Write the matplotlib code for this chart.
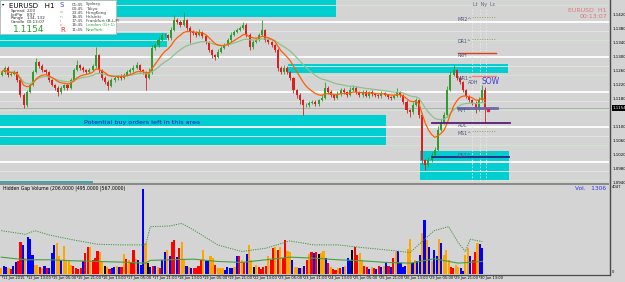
import numpy as np
import pandas as pd
import matplotlib
matplotlib.use("Agg")
import matplotlib.pyplot as plt
from matplotlib.patches import Rectangle
from matplotlib.lines import Line2D
from matplotlib import font_manager

# ---------------- data ----------------
first_open = 1.1249
closes = [
    1.1257, 1.1269, 1.1249, 1.1252, 1.1257, 1.1234, 1.1192, 1.1163, 1.1200, 1.1220,
    1.1257, 1.1286, 1.1274, 1.1263, 1.1257, 1.1234, 1.1220, 1.1212, 1.1200, 1.1212,
    1.1220, 1.1212, 1.1234, 1.1263, 1.1277, 1.1269, 1.1263, 1.1257, 1.1263, 1.1274,
    1.1306, 1.1263, 1.1240, 1.1229, 1.1217, 1.1234, 1.1240, 1.1246, 1.1240, 1.1249,
    1.1257, 1.1263, 1.1269, 1.1277, 1.1263, 1.1257, 1.1240, 1.1257, 1.1326, 1.1334,
    1.1349, 1.1363, 1.1363, 1.1354, 1.1377, 1.1406, 1.1400, 1.1392, 1.1406, 1.1383,
    1.1372, 1.1369, 1.1363, 1.1372, 1.1360, 1.1343, 1.1320, 1.1306, 1.1300, 1.1314,
    1.1326, 1.1334, 1.1349, 1.1363, 1.1372, 1.1377, 1.1383, 1.1392, 1.1363, 1.1329,
    1.1343, 1.1349, 1.1363, 1.1377, 1.1349, 1.1343, 1.1334, 1.1320, 1.1269, 1.1257,
    1.1269, 1.1257, 1.1240, 1.1206, 1.1192, 1.1177, 1.1163, 1.1163, 1.1169, 1.1172,
    1.1166, 1.1177, 1.1183, 1.1212, 1.1200, 1.1192, 1.1183, 1.1194, 1.1206, 1.1200,
    1.1192, 1.1206, 1.1212, 1.1200, 1.1192, 1.1200, 1.1189, 1.1200, 1.1194, 1.1192,
    1.1189, 1.1197, 1.1192, 1.1186, 1.1183, 1.1189, 1.1200, 1.1192, 1.1172, 1.1149,
    1.1143, 1.1163, 1.1177, 1.1134, 1.1006, 1.0992, 1.1006, 1.1020, 1.1034, 1.1092,
    1.1114, 1.1134, 1.1206, 1.1249, 1.1263, 1.1240, 1.1229, 1.1206, 1.1189, 1.1177,
    1.1169, 1.1149, 1.1177, 1.1206, 1.1154,
]
upper_wick_pips = [
    5, 6, 4, 5, 6, 3, 4, 4, 6, 7,
    5, 12, 4, 5, 3, 4, 3, 4, 5, 6,
    4, 5, 6, 7, 14, 4, 5, 3, 6, 7,
    23, 4, 3, 5, 4, 6, 5, 4, 5, 6,
    5, 6, 7, 9, 3, 4, 3, 12, 8, 6,
    7, 6, 5, 4, 9, 14, 5, 6, 23, 4,
    5, 6, 4, 7, 3, 4, 3, 4, 3, 8,
    6, 7, 5, 8, 6, 7, 5, 9, 4, 6,
    5, 6, 7, 29, 3, 4, 3, 4, 5, 6,
    7, 4, 3, 4, 3, 4, 3, 5, 4, 5,
    6, 4, 9, 17, 4, 5, 3, 8, 6, 5,
    4, 8, 7, 4, 3, 6, 5, 4, 5, 4,
    3, 6, 4, 3, 4, 6, 11, 4, 3, 4,
    3, 8, 7, 4, 6, 4, 7, 8, 9, 10,
    8, 9, 12, 10, 14, 4, 5, 3, 4, 3,
    4, 5, 9, 14, 8,
]
lower_wick_pips = [
    4, 5, 6, 3, 4, 6, 7, 9, 5, 4,
    3, 4, 6, 5, 6, 5, 4, 6, 11, 5,
    6, 5, 4, 3, 4, 6, 5, 6, 4, 3,
    5, 8, 6, 7, 11, 4, 5, 6, 5, 4,
    3, 4, 5, 4, 6, 5, 34, 4, 5, 6,
    4, 3, 5, 6, 4, 3, 5, 6, 4, 7,
    31, 5, 6, 4, 5, 6, 7, 8, 9, 4,
    3, 4, 3, 5, 4, 3, 4, 3, 6, 9,
    5, 4, 3, 4, 6, 5, 6, 7, 8, 6,
    5, 6, 7, 8, 9, 10, 29, 6, 5, 4,
    6, 5, 4, 3, 6, 5, 7, 4, 5, 6,
    5, 4, 3, 6, 5, 7, 4, 5, 6, 5,
    6, 5, 4, 6, 5, 4, 3, 5, 7, 8,
    14, 5, 4, 9, 12, 14, 6, 5, 4, 3,
    4, 5, 4, 3, 4, 6, 5, 7, 6, 5,
    6, 9, 4, 5, 43,
]

volumes = [
    271, 346, 316, 271, 225, 376, 527, 572, 1479, 1328,
    724, 1675, 1584, 875, 422, 422, 316, 271, 346, 271,
    271, 950, 1328, 1403, 829, 648, 1297, 648, 572, 422,
    376, 271, 225, 271, 572, 950, 1252, 1222, 648, 724,
    1071, 1026, 572, 376, 316, 225, 271, 316, 346, 316,
    316, 920, 678, 648, 497, 1101, 693, 648, 422, 3864,
    1433, 497, 316, 376, 346, 316, 271, 648, 1026, 1101,
    799, 1479, 1554, 769, 1176, 1479, 648, 376, 316, 271,
    271, 271, 376, 648, 1101, 572, 648, 799, 724, 422,
    271, 271, 271, 195, 316, 271, 271, 316, 799, 829,
    648, 527, 920, 1328, 648, 316, 422, 316, 225, 316,
    376, 799, 648, 1176, 1252, 1101, 1252, 724, 1554, 1071,
    1026, 648, 316, 316, 271, 271, 376, 648, 920, 1026,
    980, 1026, 920, 980, 1056, 724, 497, 316, 225, 195,
    271, 271, 316, 376, 724, 648, 1101, 1252, 875, 980,
    648, 376, 316, 225, 316, 271, 225, 346, 316, 376,
    527, 376, 316, 724, 1026, 1071, 497, 316, 376, 1131,
    1584, 497, 648, 572, 875, 1856, 2460, 1554, 1252, 572,
    1101, 799, 1584, 1433, 875, 1101, 648, 316, 271, 422,
    316, 271, 120, 875, 1176, 799, 648, 1026, 1403, 1373, 1176,
]
vol_kinds = list(
    "obborbbrrb"
    "obbboorob"
    "rbbboobooo"
    "orrrrbrror"
    "rrookorbbo"
    "brororrobb"
    "bokbrborbb"
    "obrrbroobo"
    "brrrrobboo"
    "rooobbbbob"
    "rorbookorr"
    "rrorrororr"
    "ooboobobr"
    "orbrkoobro"
    "rrorbobbkr"
    "roorrborbr"
    "bobrbrobbb"
    "boobobbobo"
    "bobbobooor"
    "roobboobrro"
    "bbbooo"
)[:len(volumes)]

vol_band_idx = [0, 10, 14, 20, 30, 40, 50, 60, 62, 70, 75, 80, 90, 100, 110, 120,
                130, 140, 150, 160, 170, 180, 186, 190, 193, 195, 200]
vol_band_val = [1977, 1810, 1977, 1780, 1554, 1358, 1328, 1328, 2160, 2188, 2310, 2007,
                1328, 1026, 1176, 1509, 1328, 1328, 1207, 1101, 980, 1977, 2160, 1433,
                1026, 1584, 1479]
vol_avg_idx = [0, 10, 20, 30, 40, 50, 60, 62, 70, 80, 90, 100, 110, 120, 130, 140,
               150, 160, 170, 180, 190, 200]
vol_avg_val = [769, 648, 648, 603, 572, 542, 497, 620, 648, 678, 572, 527, 648, 769,
               724, 648, 603, 527, 497, 693, 497, 572]

time_labels = ["11 Jun 2015", "12 Jun 13:00", "15 Jun 05:00", "15 Jun 21:00",
               "16 Jun 13:00", "17 Jun 05:00", "17 Jun 21:00", "18 Jun 13:00",
               "19 Jun 05:00", "19 Jun 21:00", "22 Jun 13:00", "23 Jun 05:00",
               "23 Jun 21:00", "24 Jun 13:00", "25 Jun 05:00", "25 Jun 21:00",
               "26 Jun 13:00", "29 Jun 05:00", "29 Jun 21:00", "30 Jun 13:00"]
price_ticks = [1.1420, 1.1380, 1.1340, 1.1300, 1.1260, 1.1220, 1.1180,
               1.1100, 1.1060, 1.1020, 1.0980, 1.0940]
round_levels = [1.1400, 1.1300, 1.1200, 1.1100, 1.1000]
half_levels = [1.1450, 1.1350, 1.1250, 1.1150, 1.1050, 1.0950]
minor_levels = [1.1373, 1.1273, 1.1173, 1.1073, 1.0973]

zone_low = [1.1414, 1.1329, 1.1254, 1.1049, 1.0949]
zone_high = [1.1470, 1.1369, 1.1280, 1.1134, 1.1031]
zone_x_px = [(0, 336), (0, 167), (288, 508), (0, 386), (420, 509)]

pivot_names = ["MR2^", "DR1^", "RxH", "WR1^", "PVT^", "ADL", "MS1^", "DS1^"]
pivot_levels = [1.1414, 1.1351, 1.1311, 1.1246, 1.1154, 1.1111, 1.1089, 1.1028]
pivot_styles = ["dot", "dot", "red", "salmon", "pvt", "purple", "dot", "dot"]
ds_line_level = 1.1014

last_price_text = "1.1154"

# ---------------- fonts ----------------
_names = {f.name for f in font_manager.fontManager.ttflist}
NARROW = "Liberation Sans Narrow" if "Liberation Sans Narrow" in _names else "DejaVu Sans"
NSCALE = 1.0 if NARROW != "DejaVu Sans" else 0.8

# ---------------- layout ----------------
W, H = 625, 282
BG = "#D4D4D4"
PXH = 1.5695          # pixels per hour bar
XMAX = 609 / PXH

def rect(x0, y0, x1, y1):
    return [x0 / W, 1 - y1 / H, (x1 - x0) / W, (y1 - y0) / H]

def hx(px):
    return px / PXH

fig = plt.figure(figsize=(W / 100, H / 100), dpi=100, facecolor=BG)
axp = fig.add_axes(rect(0, 0, 609, 183))
axv = fig.add_axes(rect(0, 185, 609, 274))
for ax in (axp, axv):
    ax.set_facecolor(BG)
    ax.set_xlim(0, XMAX)
    ax.set_xticks([])
    ax.set_yticks([])
    for s in ax.spines.values():
        s.set_visible(False)
axp.set_ylim(1.0940, 1.14629)
axv.set_ylim(0, 4060)

def ftext(x, y, s, **kw):
    kw.setdefault("va", "center")
    kw.setdefault("ha", "left")
    fig.text(x / W, 1 - y / H, s, **kw)

def fline(x0, y0, x1, y1, **kw):
    fig.add_artist(Line2D([x0 / W, x1 / W], [1 - y0 / H, 1 - y1 / H],
                          transform=fig.transFigure, **kw))

# ---------------- price panel ----------------
CYAN = "#00CED1"
for lo, hi, (x0, x1) in zip(zone_low, zone_high, zone_x_px):
    axp.add_patch(Rectangle((hx(x0), lo), hx(x1) - hx(x0), hi - lo,
                            facecolor=CYAN, edgecolor="none", zorder=1))

for lv in minor_levels:
    axp.axhline(lv, color="#E4E4E4", lw=0.7, zorder=1.5)
for lv in half_levels:
    axp.axhline(lv, color="#CFE6CF", lw=0.7, zorder=1.5)
for lv in round_levels:
    axp.axhline(lv, color="white", lw=1.3, zorder=1.6)

closes_a = np.array(closes)
opens_a = np.concatenate([[first_open], closes_a[:-1]])
highs = np.maximum(opens_a, closes_a) + np.array(upper_wick_pips) * 0.0001
lows = np.minimum(opens_a, closes_a) - np.array(lower_wick_pips) * 0.0001
xb = np.arange(len(closes)) * 2 + 1
up = closes_a >= opens_a
cols = np.where(up, "#2F9E2F", "#D82020")

axp.axhline(closes[-1], color="#A8A8A8", lw=0.6, zorder=1.7)
axp.vlines(xb, lows, highs, colors=cols, lw=0.6, zorder=2.5)
body = np.maximum(np.abs(closes_a - opens_a), 0.00009)
axp.bar(xb, body, bottom=np.minimum(opens_a, closes_a), width=1.3,
        color=cols, zorder=2.6, linewidth=0)

ser = pd.Series(closes_a)
axp.plot(xb, ser.ewm(span=24).mean(), color="#90C090", lw=0.9, zorder=2.7)
axp.plot(xb, ser.ewm(span=10).mean(), color="#FF6000", lw=0.9, zorder=2.8)

# pivot lines and labels
for name, lv, st in zip(pivot_names, pivot_levels, pivot_styles):
    if st == "dot":
        axp.plot([hx(472), hx(495)], [lv, lv], color="#A0A050", lw=0.7, ls=(0, (1, 1.5)), zorder=3)
    elif st == "red":
        axp.plot([hx(458), hx(496)], [lv, lv], color="#E04020", lw=1.0, zorder=3)
    elif st == "salmon":
        axp.plot([hx(472), hx(496)], [lv, lv], color="#F08070", lw=1.0, zorder=3)
    elif st == "pvt":
        axp.plot([hx(458), hx(497)], [lv, lv], color="#6A6AAA", lw=2.0, zorder=3)
    elif st == "purple":
        axp.plot([hx(432), hx(510)], [lv, lv], color="#5A1C78", lw=1.3, zorder=3)
    axp.text(hx(458), lv - 0.0008, name, fontsize=3.4, family=NARROW, color="#505080",
             va="center", ha="left", zorder=4)
axp.plot([hx(432), hx(509)], [ds_line_level, ds_line_level], color="#303088", lw=1.4, zorder=3)
axp.text(hx(468), 1.1228, "ADH", fontsize=3.4, family=NARROW, color="#505080", va="center", zorder=4)
axp.plot([hx(488)], [1.1150], marker="s", ms=1.5, color="#E02040", zorder=4)
for vx in (472, 480, 486):
    axp.plot([hx(vx), hx(vx)], [1.0945, 1.1440], color="#EAEAEA", lw=0.6,
             ls=(0, (2, 2)), zorder=1.8)

axp.text(hx(473), 1.1451, "Lt  Ny  Lc", fontsize=3.4, family=NARROW, color="#606080",
         va="center", zorder=4)
axp.text(hx(482), 1.1229, "SOW", fontsize=5.5, color="#3A3AE0", va="center", zorder=4)
axp.text(hx(84), 1.1114, "Potential buy orders left in this area", fontsize=4.6,
         color="#1414C0", va="center", zorder=4)

# right price axis labels
ytr = axp.get_yaxis_transform()
for p in price_ticks:
    axp.text(1.0057, p, f"{p:.4f}", transform=ytr, fontsize=3.6 * NSCALE, family=NARROW,
             va="center", ha="left", clip_on=False, color="black")
axp.text(1.0057, closes[-1], last_price_text, transform=ytr, fontsize=3.6 * NSCALE,
         family=NARROW, va="center", ha="left", clip_on=False, color="white",
         bbox=dict(facecolor="black", edgecolor="none", pad=0.5))

ftext(607, 10, "EURUSD  H1", fontsize=4.5, color="#E07878", ha="right")
ftext(607, 17, "00:13:07", fontsize=4.5, color="#E07878", ha="right")

# info box
fig.add_artist(Rectangle((0, 1 - 34 / H), 116 / W, 34 / H, transform=fig.transFigure,
                         facecolor="white", edgecolor="#B8B8B8", lw=0.6, zorder=5))
kw = dict(zorder=6)
ftext(2, 4, "▾", fontsize=3.2, color="black", **kw)
ftext(9, 5.5, "EURUSD   H1", fontsize=5.0, color="black", **kw)
for i, (a, b) in enumerate([("Spread", "2.00"), ("LotPip", "8.97"),
                            ("Range", "134, 132"), ("Candle", "00:13:07")]):
    ftext(11, 11 + 3.6 * i, a, fontsize=3.0, family=NARROW, color="#303030", **kw)
    ftext(27, 11 + 3.6 * i, b, fontsize=3.0, family=NARROW, color="#303030", **kw)
ftext(13, 29.5, last_price_text, fontsize=6.5, color="#2E9B2E", **kw)
for s, y, fs, c in [("S", 5, 5.0, "#4A4AE0"), ("o", 12, 3.2, "#8C8CD8"),
                    ("n", 16.5, 3.2, "#A0A0C8"), ("i", 20.5, 3.2, "#C08888"),
                    ("c", 24.5, 3.2, "#D06868"), ("R", 30, 5.0, "#E03030")]:
    ftext(60, y, s, fontsize=fs, color=c, **kw)
sessions = [("01:45", "Sydney"), ("00:45", "Tokyo"), ("23:45", "HongKong"),
            ("18:45", "Helsinki"), ("17:45", "Frankfurt (B,L,P)"),
            ("16:45", "London (G+1)"), ("11:45", "NewYork")]
for i, (t, n) in enumerate(sessions):
    c = "#30A030" if i >= 5 else "#404040"
    y = 4.5 + 4.2 * i
    ftext(72, y, t, fontsize=3.0, family=NARROW, color="#404040", **kw)
    ftext(86, y, n, fontsize=3.0, family=NARROW, color=c, **kw)

# ---------------- volume panel ----------------
cmap = {"b": "#0000FF", "r": "#FF0000", "o": "#FFA500", "k": "#000000"}
step = 308 / len(volumes)
xv = np.arange(len(volumes)) * step + 0.8
axv.bar(xv, volumes, width=1.35, color=[cmap[k] for k in vol_kinds], linewidth=0, zorder=2)
axv.plot(np.array(vol_band_idx) * step + 0.8, vol_band_val, color="#3C963C", lw=0.7,
         ls=(0, (1.2, 1.2)), zorder=3)
axv.plot(np.array(vol_avg_idx) * step + 0.8, vol_avg_val, color="#44A044", lw=0.8, zorder=3)

ftext(3, 188.5, "Hidden Gap Volume (206.0000 |495.0000 |567.0000)", fontsize=3.3,
      family=NARROW, color="black")
ftext(606, 188.5, "Vol.   1306", fontsize=4.2, color="#3434F0", ha="right")
ftext(612, 186.5, "4047", fontsize=3.4 * NSCALE, family=NARROW, color="black")
ftext(612, 272, "0", fontsize=3.4 * NSCALE, family=NARROW, color="black")

# frame lines
fig.add_artist(Rectangle((0, 1 - 185 / H), 609 / W, 2 / H, transform=fig.transFigure,
                         facecolor="#8A8A8A", edgecolor="none", zorder=4))
fline(0, 182.3, 92, 182.3, color="#3CA4B4", lw=1.4, zorder=5)
fline(0, 274.5, 609, 274.5, color="#4A4A4A", lw=0.9)
fline(609.5, 0, 609.5, 275, color="#4A4A4A", lw=1.0)

# time labels
for k, lab in enumerate(time_labels):
    px = 2 + 25.1 * k
    fline(px, 274.5, px, 277, color="#4A4A4A", lw=0.5)
    ftext(px + 1, 278.5, lab, fontsize=3.3 * NSCALE, family=NARROW, color="black")

fig.savefig("out.png", dpi=100, facecolor=BG)
